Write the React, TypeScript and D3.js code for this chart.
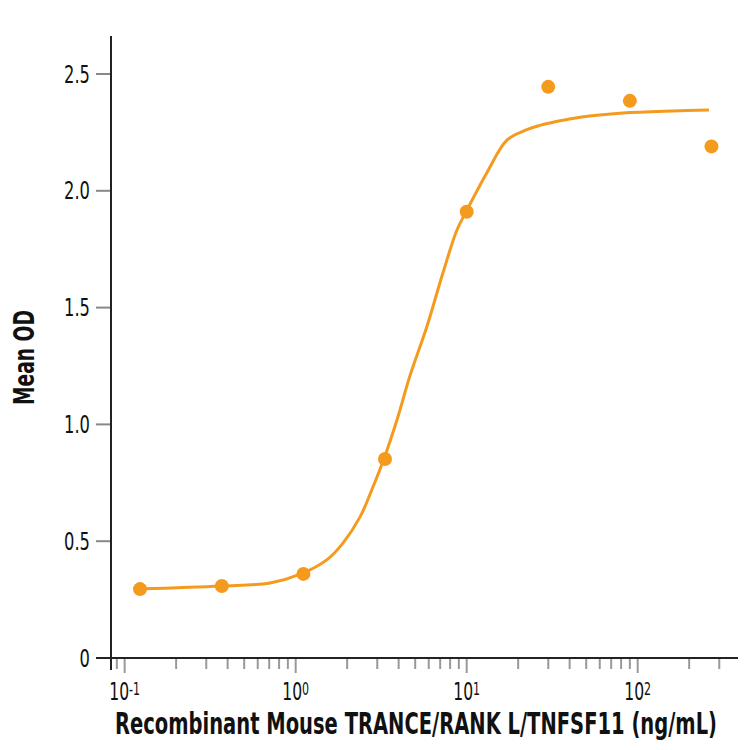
import React from 'react';
import * as d3 from 'd3';

// dose points (3-fold dilution, ng/mL) and measured mean OD
const concentrations = [0.123, 0.37, 1.11, 3.33, 10, 30, 90, 270];
const meanOD = [0.295, 0.308, 0.36, 0.852, 1.91, 2.445, 2.385, 2.19];

// fitted curve
const curveX = [0.12, 0.366, 0.708, 1.074, 1.52, 1.89, 2.38, 2.83, 3.28, 3.91, 4.66, 5.86, 7.26, 8.77, 9.9, 13.1, 17.2, 22.5, 26.8, 35.2, 46, 82, 161, 261];
const curveY = [0.295, 0.308, 0.321, 0.36, 0.42, 0.492, 0.604, 0.732, 0.852, 1.019, 1.208, 1.42, 1.648, 1.832, 1.909, 2.076, 2.217, 2.262, 2.28, 2.3, 2.315, 2.333, 2.342, 2.346];

const yTicks = [0, 0.5, 1.0, 1.5, 2.0, 2.5];
const yTickLabels = ['0', '0.5', '1.0', '1.5', '2.0', '2.5'];
const xMajor = [0.1, 1, 10, 100];
const xMajorExp = ['-1', '0', '1', '2'];
const xMinor = [0.09, 0.2, 0.3, 0.4, 0.5, 0.6, 0.7, 0.8, 0.9, 2, 3, 4, 5, 6, 7, 8, 9, 20, 30, 40, 50, 60, 70, 80, 90, 200, 300];

const ORANGE = '#F49B1E';
const FONT = '"DejaVu Sans", sans-serif';
// no condensed face installed, so narrow the glyphs
const SQUEEZE_Y = 0.68;
const SQUEEZE_X = 0.65;

const App: React.FC = () => {
  const left = 111;
  const right = 738;
  const top = 36;
  const bottom = 658;

  const x = d3.scaleLog().domain([0.0832, 386]).range([left, right]);
  const y = d3.scaleLinear().domain([0, 2.5]).range([bottom, 74]);

  const line = d3
    .line<number>()
    .x((_, i) => x(curveX[i]))
    .y((d) => y(d))
    .curve(d3.curveCatmullRom.alpha(0.5));

  return (
    <svg width={750} height={750} style={{ position: 'absolute', left: 0, top: 0, background: '#fff' }}>
      {/* y ticks */}
      {yTicks.map((t, i) => (
        <g key={'y' + t}>
          {t !== 0 && <line x1={96} x2={left} y1={y(t)} y2={y(t)} stroke="#888" strokeWidth={2} />}
          <text
            transform={`translate(90,${y(t) + 8.5}) scale(${SQUEEZE_Y},1)`}
            textAnchor="end"
            fontFamily={FONT}
            fontSize={24}
            fill="#111"
          >
            {yTickLabels[i]}
          </text>
        </g>
      ))}

      {/* x ticks */}
      {xMinor.map((t) => (
        <line key={'m' + t} x1={x(t)} x2={x(t)} y1={bottom} y2={669} stroke="#999" strokeWidth={2} />
      ))}
      {xMajor.map((t, i) => (
        <g key={'M' + t}>
          <line x1={x(t)} x2={x(t)} y1={bottom} y2={673} stroke="#999" strokeWidth={2} />
          <text
            transform={`translate(${x(t)},700) scale(${SQUEEZE_X},1)`}
            textAnchor="middle"
            fontFamily={FONT}
            fontSize={24}
            fill="#111"
          >
            10
            <tspan dy={-5} fontSize={17}>
              {xMajorExp[i]}
            </tspan>
          </text>
        </g>
      ))}

      {/* axes */}
      <line x1={96} x2={right} y1={bottom} y2={bottom} stroke="#222" strokeWidth={2} />
      <line x1={left} x2={left} y1={top} y2={670} stroke="#222" strokeWidth={2} />

      {/* fitted curve */}
      <path d={line(curveY) || ''} fill="none" stroke={ORANGE} strokeWidth={3} />

      {/* data points */}
      {concentrations.map((c, i) => (
        <circle key={'p' + c} cx={x(c)} cy={y(meanOD[i])} r={7} fill={ORANGE} />
      ))}

      {/* titles */}
      <text
        x={115}
        y={734}
        textLength={602}
        lengthAdjust="spacingAndGlyphs"
        fontFamily={FONT}
        fontWeight="bold"
        fontSize={30}
        fill="#111"
      >
        Recombinant Mouse TRANCE/RANK L/TNFSF11 (ng/mL)
      </text>
      <text
        transform="translate(34,405) rotate(-90)"
        textLength={95}
        lengthAdjust="spacingAndGlyphs"
        fontFamily={FONT}
        fontWeight="bold"
        fontSize={29}
        fill="#111"
      >
        Mean OD
      </text>
    </svg>
  );
};

export default App;
